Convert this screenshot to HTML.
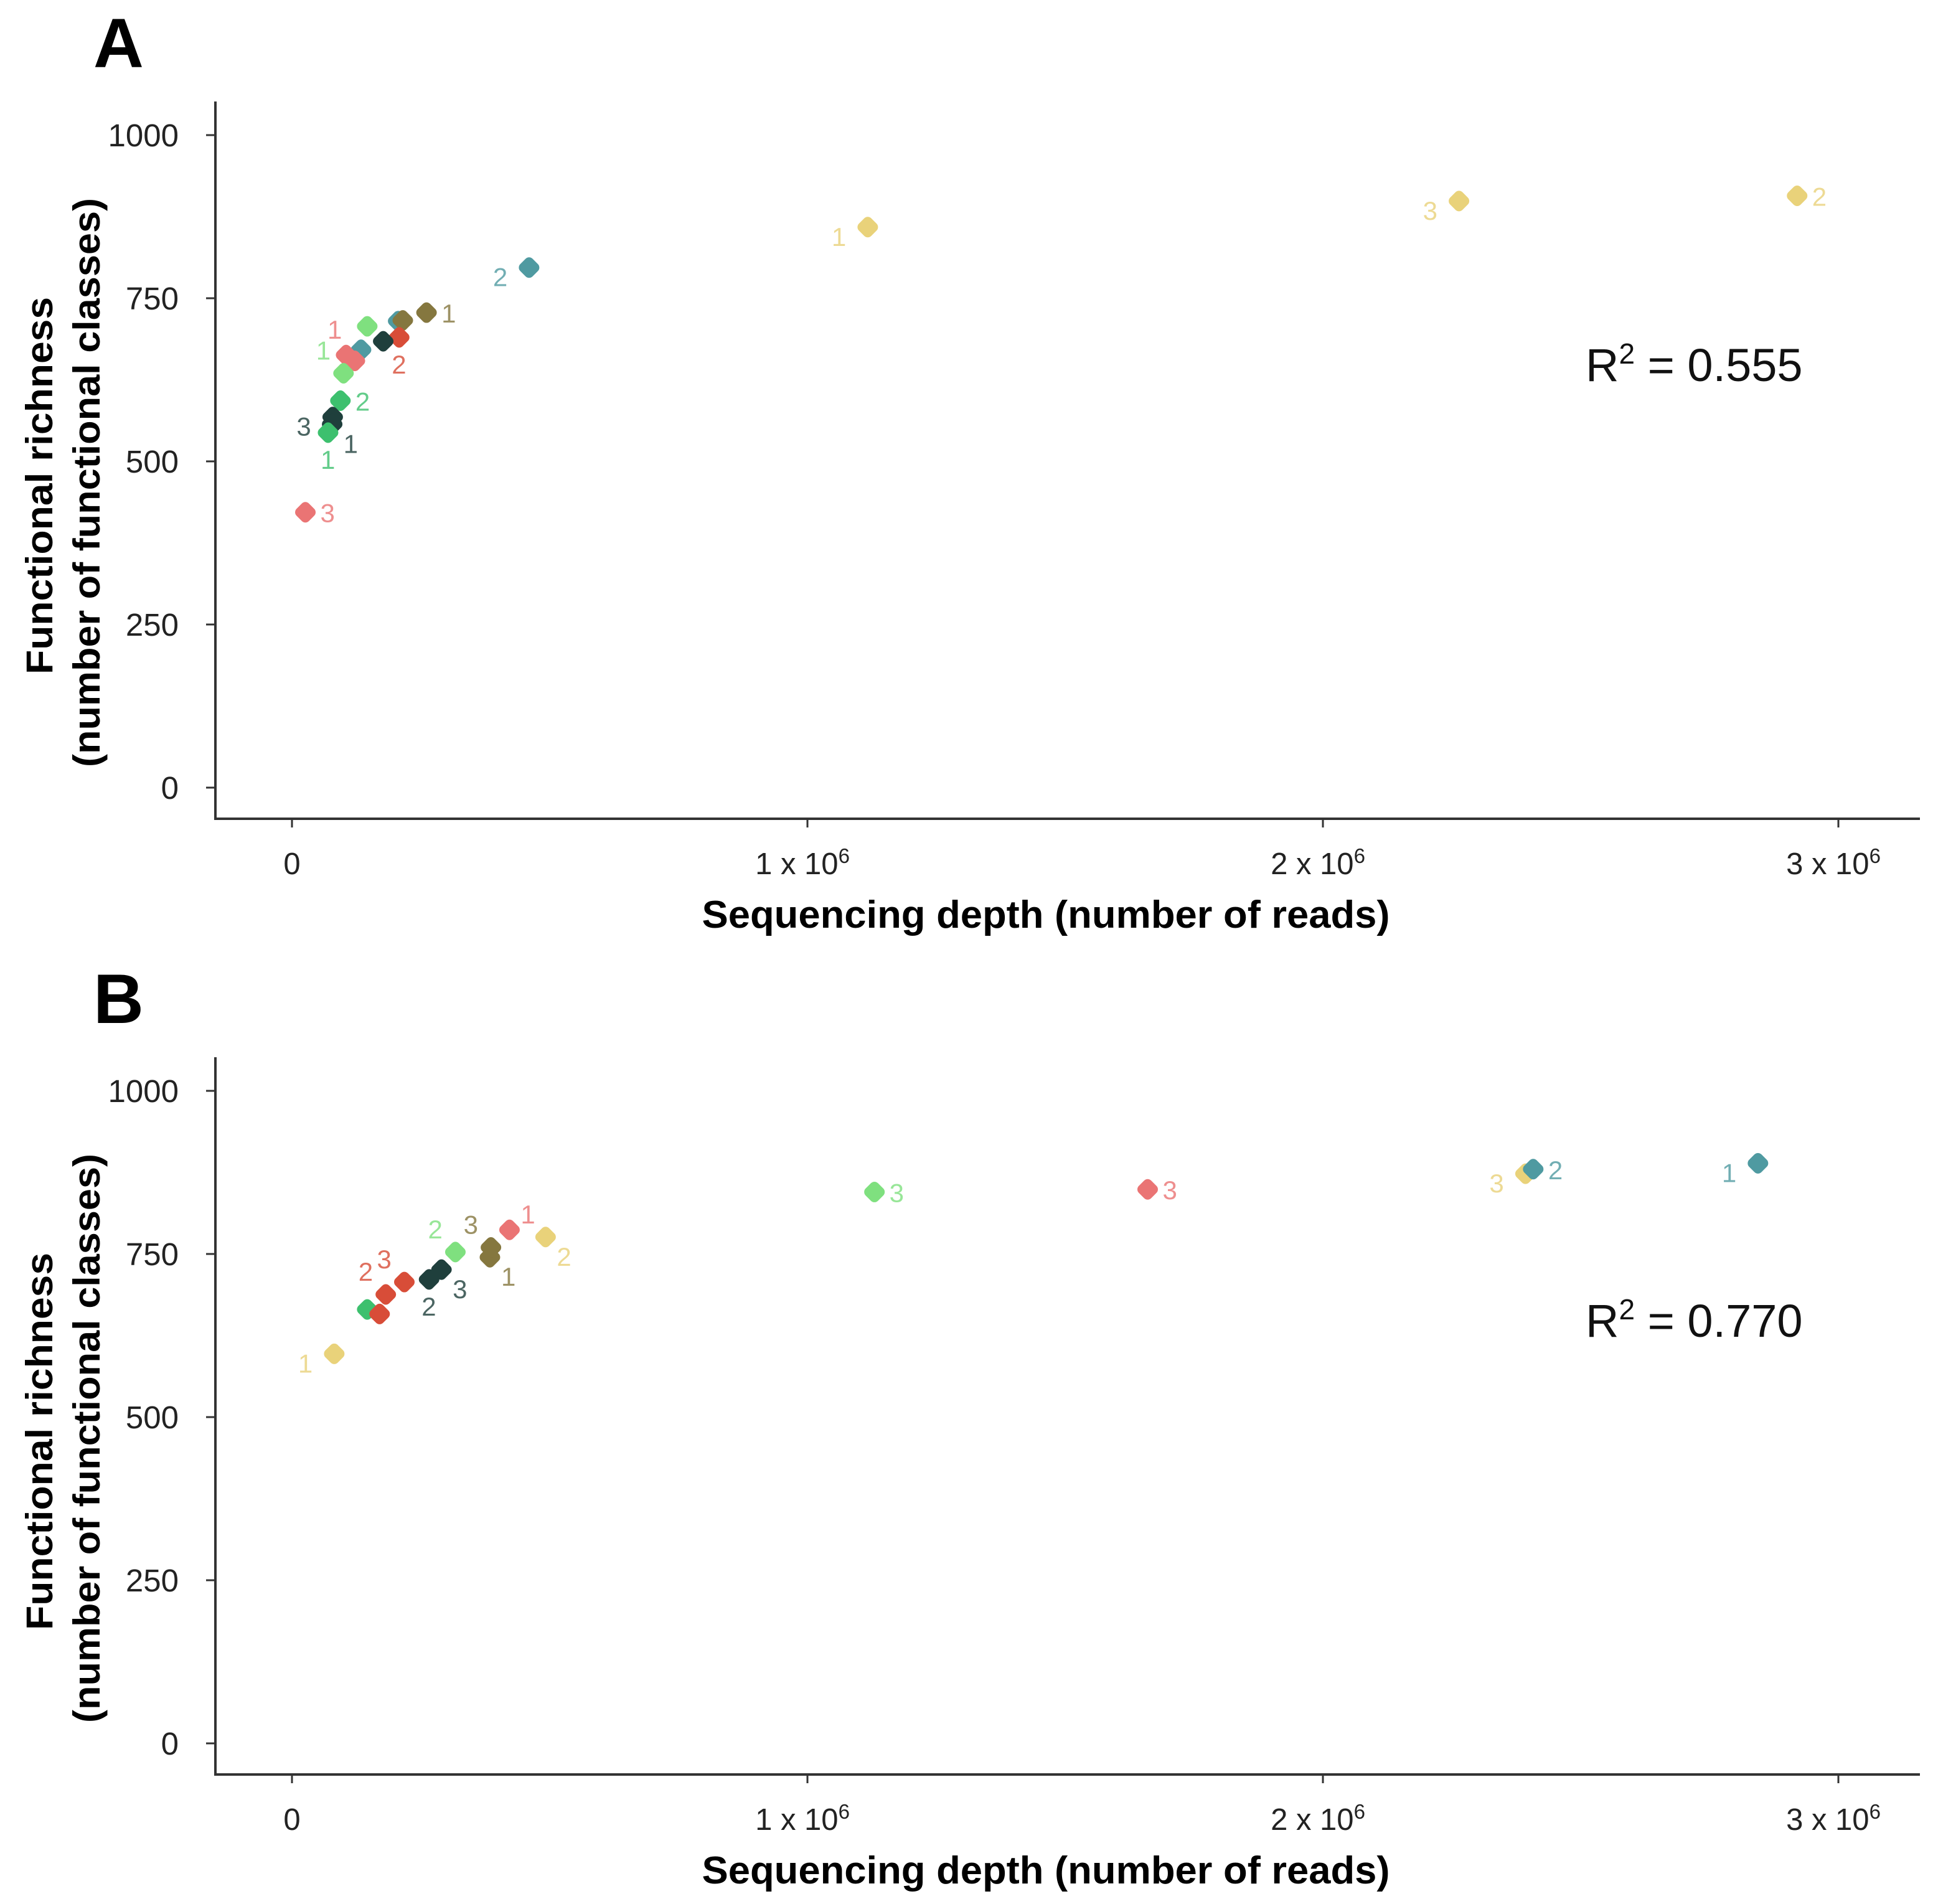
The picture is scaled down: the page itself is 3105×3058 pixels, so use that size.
<!DOCTYPE html>
<html><head><meta charset="utf-8">
<style>
html,body{margin:0;padding:0;background:#fff;}
svg{display:block;font-family:"Liberation Sans",Arial,sans-serif;}
</style></head>
<body>
<svg id="fig" width="3105" height="3058" viewBox="0 0 3105 3058" xmlns="http://www.w3.org/2000/svg">
<rect width="3105" height="3058" fill="#fff"/>
</svg>
<script>
// ---- data ----
const xTicks = [0, 1e6, 2e6, 3e6];
const xTickLabels = ["0", "1 x 10", "2 x 10", "3 x 10"];
const yTicks = [0, 250, 500, 750, 1000];
const yTickLabels = ["0", "250", "500", "750", "1000"];
const rSquared = ["0.555", "0.770"];

// Panel A
const aDepth = [1.117e6, 2.264e6, 2.92e6, 0.46e6, 0.261e6, 0.206e6, 0.215e6, 0.208e6, 0.146e6, 0.177e6, 0.134e6, 0.122e6, 0.105e6, 0.100e6, 0.094e6, 0.079e6, 0.078e6, 0.070e6, 0.026e6];
const aRich  = [859, 899, 907, 797, 728, 715, 716, 690, 707, 684, 671, 654, 663, 635, 593, 568, 557, 544, 422];
const aGroup = ["yellow","yellow","yellow","teal","olive","teal","olive","red","lgreen","dark","teal","pink","pink","lgreen","green","dark","dark","green","pink"];
const aLabel = ["1","3","2","2","1","","","2","","","","","1","1","2","3","1","1","3"];
const aSide  = ["L","L","R","L","R","R","R","B","R","R","R","R","T","TL","R","L","BR","B","R"];

// Panel B
const bDepth = [0.082e6, 0.146e6, 0.170e6, 0.182e6, 0.218e6, 0.266e6, 0.290e6, 0.317e6, 0.384e6, 0.386e6, 0.422e6, 0.492e6, 1.13e6, 1.66e6, 2.393e6, 2.408e6, 2.844e6];
const bRich  = [597, 665, 658, 688, 707, 711, 726, 753, 745, 760, 787, 776, 845, 849, 873, 880, 889];
const bGroup = ["yellow","green","red","red","red","dark","dark","lgreen","olive","olive","pink","yellow","lgreen","pink","yellow","teal","teal"];
const bLabel = ["1","","","2","3","2","3","2","1","3","1","2","3","3","3","2","1"];
const bSide  = ["L","R","R","TL","TL","B","BR","TL","BR","TL","TR","BR","R","R","L","R","L"];

const colors = {yellow:"#e9d27a", teal:"#4f9aa1", olive:"#85773f", red:"#d84d38", pink:"#ea7474", lgreen:"#7fe07f", green:"#3dc06e", dark:"#1f3f3c"};
const labelOffsets = {R:[24,16], L:[-58,30], B:[-12,58], T:[-30,-26], TL:[-44,-22], BR:[18,46], TR:[18,-10]};

// ---- layout ----
const NS = "http://www.w3.org/2000/svg";
const svg = document.getElementById("fig");
const X0 = 469, XPER = 828;
function xs(v){ return X0 + v / 1e6 * XPER; }
function mk(tag, attrs, parent){ const e = document.createElementNS(NS, tag); for (const k in attrs) e.setAttribute(k, attrs[k]); (parent||svg).appendChild(e); return e; }

function panel(letter, off, depth, rich, group, labels, sides, r2){
  const ys = v => off + 1265 - v * 1.048;
  const g = mk("g", {});
  
  

  const L = mk("text", {x:150, y:off+108, "font-size":112, "font-weight":"bold", fill:"#000"}, g);
  L.textContent = letter;
  
  

  const ya = mk("line", {x1:346, y1:off+163, x2:346, y2:off+1316, stroke:"#333", "stroke-width":4}, g);
  
  
  const xa = mk("line", {x1:344, y1:off+1315, x2:3084, y2:off+1315, stroke:"#333", "stroke-width":4}, g);
  
  

  yTicks.forEach((t, i) => {
    const y = ys(t);
    mk("line", {x1:331, y1:y, x2:346, y2:y, stroke:"#333", "stroke-width":3}, g);
    const tl = mk("text", {x:287, y:y+18, "font-size":51, "text-anchor":"end", fill:"#222"}, g);
    tl.textContent = yTickLabels[i];
    
    
  });
  xTicks.forEach((t, i) => {
    const x = xs(t);
    mk("line", {x1:x, y1:off+1315, x2:x, y2:off+1329, stroke:"#333", "stroke-width":3}, g);
    const tl = mk("text", {x: i===0 ? x : x-8, y:off+1404, "font-size":49, "text-anchor":"middle", fill:"#222"}, g);
    tl.textContent = xTickLabels[i];
    if (i > 0) { const s = mk("tspan", {dy:-18, "font-size":33}, tl); s.textContent = "6"; }
    
    
  });

  const xt = mk("text", {x:1680, y:off+1490, "font-size":62, "font-weight":"bold", "text-anchor":"middle", textLength:1105, lengthAdjust:"spacingAndGlyphs", fill:"#000"}, g);
  xt.textContent = "Sequencing depth (number of reads)";
  
  

  const yt = mk("text", {transform:`translate(84,${off+780}) rotate(-90)`, "font-size":60, "font-weight":"bold", "text-anchor":"middle", textLength:606, lengthAdjust:"spacingAndGlyphs", fill:"#000"}, g);
  yt.textContent = "Functional richness";
  
  
  const yt2 = mk("text", {transform:`translate(160,${off+775}) rotate(-90)`, "font-size":60, "font-weight":"bold", "text-anchor":"middle", textLength:914, lengthAdjust:"spacingAndGlyphs", fill:"#000"}, g);
  yt2.textContent = "(number of functional classes)";
  
  

  const r = mk("text", {x:2547, y:off+612, "font-size":74, fill:"#111"}, g);
  r.textContent = "R";
  const sup = mk("tspan", {dy:-28, "font-size":46}, r); sup.textContent = "2";
  const rest = mk("tspan", {dy:28}, r); rest.textContent = " = " + r2;
  
  

  depth.forEach((d, i) => {
    const cx = xs(d), cy = ys(rich[i]);
    const p = mk("rect", {x:cx-14, y:cy-14, width:28, height:28, rx:8, fill:colors[group[i]], transform:`rotate(45 ${cx} ${cy})`}, g);
    
    
    if (labels[i]) {
      const o = labelOffsets[sides[i]] || labelOffsets.R;
      const t = mk("text", {x:cx+o[0], y:cy+o[1], "font-size":42, fill:colors[group[i]], opacity:0.8}, g);
      t.textContent = labels[i];
      
      
    }
  });
}
panel("A", 0, aDepth, aRich, aGroup, aLabel, aSide, rSquared[0]);
panel("B", 1535, bDepth, bRich, bGroup, bLabel, bSide, rSquared[1]);
</script>
</body></html>
